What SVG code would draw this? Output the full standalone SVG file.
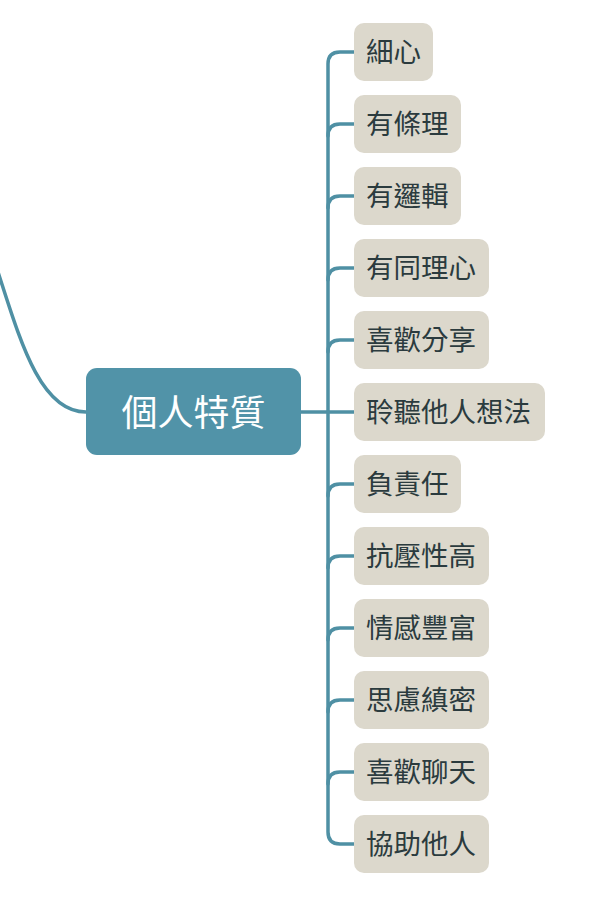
<svg xmlns="http://www.w3.org/2000/svg" width="593" height="899" viewBox="0 0 593 899">
<style>
.c{fill:none;stroke:#4f90a4;stroke-width:3.5;stroke-linecap:round}
.leaf rect{fill:#dcd8cc}
.leaf text{font-family:"Noto Sans CJK TC","Noto Sans CJK SC",sans-serif;font-size:27.5px;fill:#2b3b3e;dominant-baseline:central}
.main rect{fill:#5193a8}
.main text{font-family:"Noto Sans CJK TC","Noto Sans CJK SC",sans-serif;font-size:36px;fill:#ffffff;dominant-baseline:central;text-anchor:middle}
</style>
<g id="connectors">
<path class="c" d="M-2,272 C20,340 40,412 86,412"/>
<path class="c" d="M301,412 H354"/>
<path class="c" d="M354,52 H340 Q328,52 328,64 V832 Q328,844 340,844 H354"/>
<path class="c" d="M328,136 Q328,124 340,124 H354"/>
<path class="c" d="M328,208 Q328,196 340,196 H354"/>
<path class="c" d="M328,280 Q328,268 340,268 H354"/>
<path class="c" d="M328,352 Q328,340 340,340 H354"/>
<path class="c" d="M328,496 Q328,484 340,484 H354"/>
<path class="c" d="M328,568 Q328,556 340,556 H354"/>
<path class="c" d="M328,640 Q328,628 340,628 H354"/>
<path class="c" d="M328,712 Q328,700 340,700 H354"/>
<path class="c" d="M328,784 Q328,772 340,772 H354"/>
</g>
<g id="main" class="main"><rect x="86" y="368" width="215" height="87" rx="11"/><text x="193.5" y="410">個人特質</text></g>
<g id="n1" class="leaf"><rect x="354" y="23" width="79" height="58" rx="10"/><text x="366" y="50">細心</text></g>
<g id="n2" class="leaf"><rect x="354" y="95" width="107" height="58" rx="10"/><text x="366" y="122">有條理</text></g>
<g id="n3" class="leaf"><rect x="354" y="167" width="107" height="58" rx="10"/><text x="366" y="194">有邏輯</text></g>
<g id="n4" class="leaf"><rect x="354" y="239" width="135" height="58" rx="10"/><text x="366" y="266">有同理心</text></g>
<g id="n5" class="leaf"><rect x="354" y="311" width="135" height="58" rx="10"/><text x="366" y="338">喜歡分享</text></g>
<g id="n6" class="leaf"><rect x="354" y="383" width="191" height="58" rx="10"/><text x="366" y="410">聆聽他人想法</text></g>
<g id="n7" class="leaf"><rect x="354" y="455" width="107" height="58" rx="10"/><text x="366" y="482">負責任</text></g>
<g id="n8" class="leaf"><rect x="354" y="527" width="135" height="58" rx="10"/><text x="366" y="554">抗壓性高</text></g>
<g id="n9" class="leaf"><rect x="354" y="599" width="135" height="58" rx="10"/><text x="366" y="626">情感豐富</text></g>
<g id="n10" class="leaf"><rect x="354" y="671" width="135" height="58" rx="10"/><text x="366" y="698">思慮縝密</text></g>
<g id="n11" class="leaf"><rect x="354" y="743" width="135" height="58" rx="10"/><text x="366" y="770">喜歡聊天</text></g>
<g id="n12" class="leaf"><rect x="354" y="815" width="135" height="58" rx="10"/><text x="366" y="842">協助他人</text></g>
</svg>
